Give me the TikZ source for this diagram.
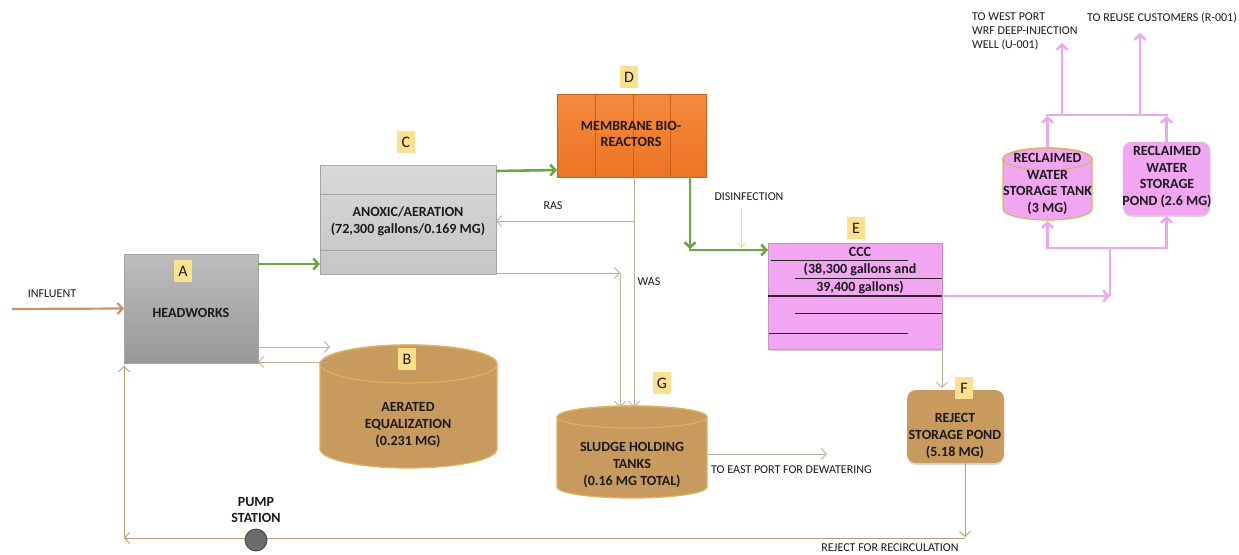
\documentclass[tikz,border=0pt]{standalone}
\usepackage{fontspec}
\setmainfont{Carlito}
\usetikzlibrary{arrows.meta,calc,shadows}

\definecolor{txtdark}{HTML}{1A1A1A}
\definecolor{lettery}{HTML}{FBE08E}
\definecolor{grayA1}{HTML}{BDBDBD}
\definecolor{grayA2}{HTML}{989898}
\definecolor{grayC1}{HTML}{D8D8D8}
\definecolor{grayC2}{HTML}{C6C6C6}
\definecolor{graybord}{HTML}{A4A4A4}
\definecolor{orangeT}{HTML}{F58A3E}
\definecolor{orangeB}{HTML}{EC7424}
\definecolor{orangeD}{HTML}{C9601C}
\definecolor{tanfill}{HTML}{C99A5E}
\definecolor{tanedge}{HTML}{D9B35E}
\definecolor{pinkfill}{HTML}{F2A6F2}
\definecolor{pinkedge}{HTML}{C892C8}
\definecolor{pinkline}{HTML}{EBA8EB}
\definecolor{flowgreen}{HTML}{68AA40}
\definecolor{thinflow}{HTML}{BEB09A}
\definecolor{recirc}{HTML}{B59E72}
\definecolor{influent}{HTML}{C39466}
\definecolor{disinf}{HTML}{F2DC5A}

\tikzset{
  x=1pt, y=1pt,
  letterbox/.style={fill=lettery, inner sep=0pt, minimum width=18pt, minimum height=22pt,
    text=txtdark, font=\fontsize{16}{16}\selectfont},
  boxtext/.style={font=\fontsize{14}{16.8}\selectfont\bfseries, align=center, text=txtdark, inner sep=0pt},
  smalltext/.style={font=\fontsize{12}{14}\selectfont, text=txtdark, inner sep=0pt},
  plainbox/.style={inner sep=0pt, outer sep=0pt},
  greenflow/.style={draw=flowgreen, line width=2.6pt, -{Straight Barb[length=5pt,width=11pt]}},
  thinflow/.style={draw=thinflow, line width=0.9pt, -{Straight Barb[length=5pt,width=11pt]}},
  recircflow/.style={draw=recirc, line width=0.9pt, -{Straight Barb[length=5pt,width=11pt]}},
  pinkflow/.style={draw=pinkline, line width=2.6pt, -{Straight Barb[length=5pt,width=11pt]}},
  pinkpipe/.style={draw=pinkline, line width=2.6pt},
  ebar/.style={draw=black!85, line width=0.7pt},
  pumpdot/.style={circle, fill=black!58, draw=black!75, line width=0.8pt, minimum size=22pt, inner sep=0pt},
}

% a vertical storage drum: name, left x, right x, top y, bottom y, end radius, fill, edge
\newcommand{\drumshape}[8]{%
  \node[plainbox, minimum width={(#3)-(#2)}, minimum height={(#4)-(#5)}]
    (#1) at ({((#2)+(#3))/2},{((#4)+(#5))/2}) {};
  \filldraw[fill=#7, draw=#8, line width=1.2pt]
    (#2,{(#4)-(#6)}) -- (#2,{(#5)+(#6)})
    arc[start angle=180, end angle=360, x radius={((#3)-(#2))/2}, y radius=#6]
    -- (#3,{(#4)-(#6)})
    arc[start angle=0, end angle=180, x radius={((#3)-(#2))/2}, y radius=#6] -- cycle;
  \draw[draw=#8, line width=1.2pt]
    ({((#2)+(#3))/2},{(#4)-(#6)}) ellipse[x radius={((#3)-(#2))/2}, y radius=#6];
}

\begin{document}
\begin{tikzpicture}
\useasboundingbox[fill=white] (0,0) rectangle (1239,-554);

% ---------------- process units ----------------
% A: headworks
\node[plainbox, draw=graybord, top color=grayA1, bottom color=grayA2,
      minimum width=134, minimum height=109] (A) at (191,-308.5) {};
\node[letterbox] (labA) at (183,-271) {A};
\node[boxtext] (txtA) at (191,-313) {HEADWORKS};

% C: anoxic / aeration basin
\node[plainbox, draw=graybord, top color=grayC1, bottom color=grayC2,
      minimum width=176, minimum height=109] (C) at (408,-219.5) {};
\draw[graybord, line width=0.8pt] ($(C.north west)+(0,-29)$) -- ($(C.north east)+(0,-29)$);
\draw[graybord, line width=0.8pt] ($(C.north west)+(0,-85)$) -- ($(C.north east)+(0,-85)$);
\node[letterbox] (labC) at (406,-142) {C};
\node[boxtext] (txtC) at (408,-221) {ANOXIC/AERATION\\(72,300 gallons/0.169 MG)};

% D: membrane bioreactors
\node[plainbox, draw=orangeD, top color=orangeT, bottom color=orangeB,
      minimum width=149, minimum height=83] (D) at (631.5,-135.5) {};
\foreach \dx in {38,76,113}
  \draw[orangeD, line width=0.8pt] ($(D.north west)+(\dx,0)$) -- ($(D.south west)+(\dx,0)$);
\node[letterbox] (labD) at (629,-77) {D};
\node[boxtext] (txtD) at (631,-134) {MEMBRANE BIO-\\REACTORS};

% E: chlorine contact chambers
\node[plainbox, draw=pinkedge, fill=pinkfill,
      drop shadow={shadow xshift=1pt, shadow yshift=-2pt, opacity=0.35},
      minimum width=174, minimum height=106] (E) at (855,-296) {};
\draw[ebar] ($(E.north west)+(3,-17)$) -- ($(E.north west)+(140,-17)$);
\draw[ebar] ($(E.north west)+(27,-35)$) -- ($(E.north west)+(174,-35)$);
\draw[ebar, line width=1.5pt] ($(E.north west)+(0,-53)$) -- ($(E.north west)+(174,-53)$);
\draw[ebar] ($(E.north west)+(27,-70)$) -- ($(E.north west)+(174,-70)$);
\draw[ebar] ($(E.north west)+(1,-90)$) -- ($(E.north west)+(140,-90)$);
\node[letterbox] (labE) at (856,-228) {E};
\node[boxtext] (txtE1) at (860,-252) {CCC};
\node[boxtext] (txtE2) at (860,-269) {(38,300 gallons and};
\node[boxtext] (txtE3) at (860,-287) {39,400 gallons)};

% F: reject storage pond
\node[plainbox, fill=tanfill, rounded corners=9pt,
      drop shadow={shadow xshift=0pt, shadow yshift=-2pt, opacity=0.3},
      minimum width=97, minimum height=73] (F) at (955.5,-426.5) {};
\node[letterbox] (labF) at (964,-388) {F};
\node[boxtext] (txtF) at (955,-436) {REJECT\\STORAGE POND\\(5.18 MG)};

% B: aerated equalization tank
\drumshape{B}{320}{497}{-345}{-468}{19}{tanfill}{tanedge}
\node[letterbox] (labB) at (407,-359) {B};
\node[boxtext] (txtB) at (408,-425) {AERATED\\EQUALIZATION\\(0.231 MG)};

% G: sludge holding tanks
\drumshape{G}{557}{707}{-406}{-498}{11}{tanfill}{tanedge}
\node[letterbox] (labG) at (662,-383) {G};
\node[boxtext] (txtG) at (632,-465) {SLUDGE HOLDING\\TANKS\\(0.16 MG TOTAL)};

% reclaimed water storage tank and pond
\drumshape{Tank}{1003}{1092}{-148}{-220}{11}{pinkfill}{tanedge}
\node[boxtext] (txtTank) at (1047.5,-184) {RECLAIMED\\WATER\\STORAGE TANK\\(3 MG)};
\node[plainbox, draw=pinkedge!70, fill=pinkfill, rounded corners=9pt,
      drop shadow={shadow xshift=0pt, shadow yshift=-2pt, opacity=0.3},
      minimum width=87, minimum height=73] (Pond) at (1166.5,-178.5) {};
\node[boxtext] (txtPond) at (1167,-177) {RECLAIMED\\WATER\\STORAGE\\POND (2.6 MG)};

% pump station label
\node[boxtext] (txtPump) at (256,-510) {PUMP\\STATION};

% ---------------- flows ----------------
% influent
\coordinate (inf) at (12,-309);
\draw[draw=influent, line width=2.2pt, -{Straight Barb[length=5pt,width=11pt]}] (inf) -- (A.west);
\node[smalltext] (txtInf) at (52,-294) {INFLUENT};

% main liquid train
\draw[greenflow] ($(A.north east)+(0,-10)$) -- ($(C.south west)+(0,10)$);
\draw[greenflow] ($(C.north east)+(0,-6)$) -- ($(D.south west)+(0,7)$);
\coordinate (dcorner) at ($(D.south east)+(-16,-73)$);
\draw[greenflow] ($(D.south east)+(-16,0)$) -- ($(dcorner)+(0,1)$);
\draw[greenflow] ($(dcorner)+(-1.3,0)$) -- (dcorner -| E.west);

% disinfection dose
\coordinate (dis) at (741,-208);
\draw[draw=disinf, line width=0.8pt, -{Straight Barb[length=4pt,width=8pt]}] (dis) -- ($(dis |- dcorner)+(0,2)$);
\node[smalltext] (txtDis) at (749,-197) {DISINFECTION};

% return and waste activated sludge
\coordinate (rasx) at ($(D.south)+(2.5,0)$);
\draw[thinflow] (rasx) -- ($(rasx |- G.north)+(0,-1)$);
\coordinate (rasj) at ($(rasx)+(0,-44)$);
\draw[thinflow] (rasj) -- (rasj -| C.east);
\node[smalltext] (txtRAS) at (553,-206) {RAS};
\node[smalltext] (txtWAS) at (649,-282) {WAS};
\coordinate (wasc) at ($(C.south east)+(124,1)$);
\draw[thinflow] ($(C.south east)+(0,1)$) -- (wasc);
\draw[thinflow] (wasc) -- ($(wasc |- G.north)+(0,-1)$);

% headworks <-> equalization
\coordinate (abR) at ($(A.south east)+(72,16)$);
\draw[thinflow] ($(A.south east)+(0,16)$) -- (abR);
\draw[thinflow] ($(B.north west)+(8,-17)$) -- ($(A.south east)+(0,1)$);

% sludge to dewatering
\coordinate (dewater) at ($(G.east)+(120,-2)$);
\draw[thinflow] ($(G.east)+(0,-2)$) -- (dewater);
\node[smalltext, anchor=west] (txtDew) at (711,-470) {TO EAST PORT FOR DEWATERING};

% CCC reject and recirculation
\draw[thinflow] (E.south east) -- ($(E.south east |- F.north)+(0,2)$);
\coordinate (rc1) at ($(F.south)+(9.5,-75)$);
\coordinate (rc2) at (rc1 -| A.west);
\draw[recircflow] ($(F.south)+(9.5,0)$) -- ($(rc1)+(0,1)$);
\draw[recircflow] (rc1) -- (rc2);
\draw[recircflow] (rc2) -- ($(A.south west)+(0,-3)$);
\node[smalltext] (txtRec) at (890,-548) {REJECT FOR RECIRCULATION};
\node[pumpdot] (pump) at (256,-540) {};

% reclaimed water distribution
\coordinate (pk) at ($(E.east)+(168,0)$);
\draw[pinkflow] (E.east) -- (pk);
\coordinate (pj) at ($(pk)+(0,48)$);
\draw[pinkpipe] (pk) -- (pj);
\draw[pinkpipe] ($(pj -| Tank.south)+(-1.3,0)$) -- ($(pj -| Pond.south)+(1.3,0)$);
\draw[pinkflow] (pj -| Tank.south) -- ($(Tank.south)+(0,-1)$);
\draw[pinkflow] (pj -| Pond.south) -- ($(Pond.south)+(0,-1)$);
\coordinate (pu) at (1110,-115);
\draw[pinkflow] (Tank.north) -- ($(Tank.north |- pu)+(0,-1)$);
\draw[pinkflow] (Pond.north) -- ($(Pond.north |- pu)+(0,-1)$);
\draw[pinkpipe] ($(Tank.north |- pu)+(-1.3,0)$) -- ($(Pond.north |- pu)+(1.3,0)$);
\coordinate (outW) at (1062,-115);
\coordinate (outR) at (1140,-115);
\draw[pinkflow] (outW) -- ++(0,72);
\draw[pinkflow] (outR) -- ++(0,82);
\node[smalltext, anchor=north west, align=left] (txtWest) at (972,-13)
  {TO WEST PORT\\WRF DEEP-INJECTION\\WELL (U-001)};
\node[smalltext, anchor=north west] (txtReuse) at (1087,-13)
  {TO REUSE CUSTOMERS (R-001)};
\end{tikzpicture}
\end{document}
